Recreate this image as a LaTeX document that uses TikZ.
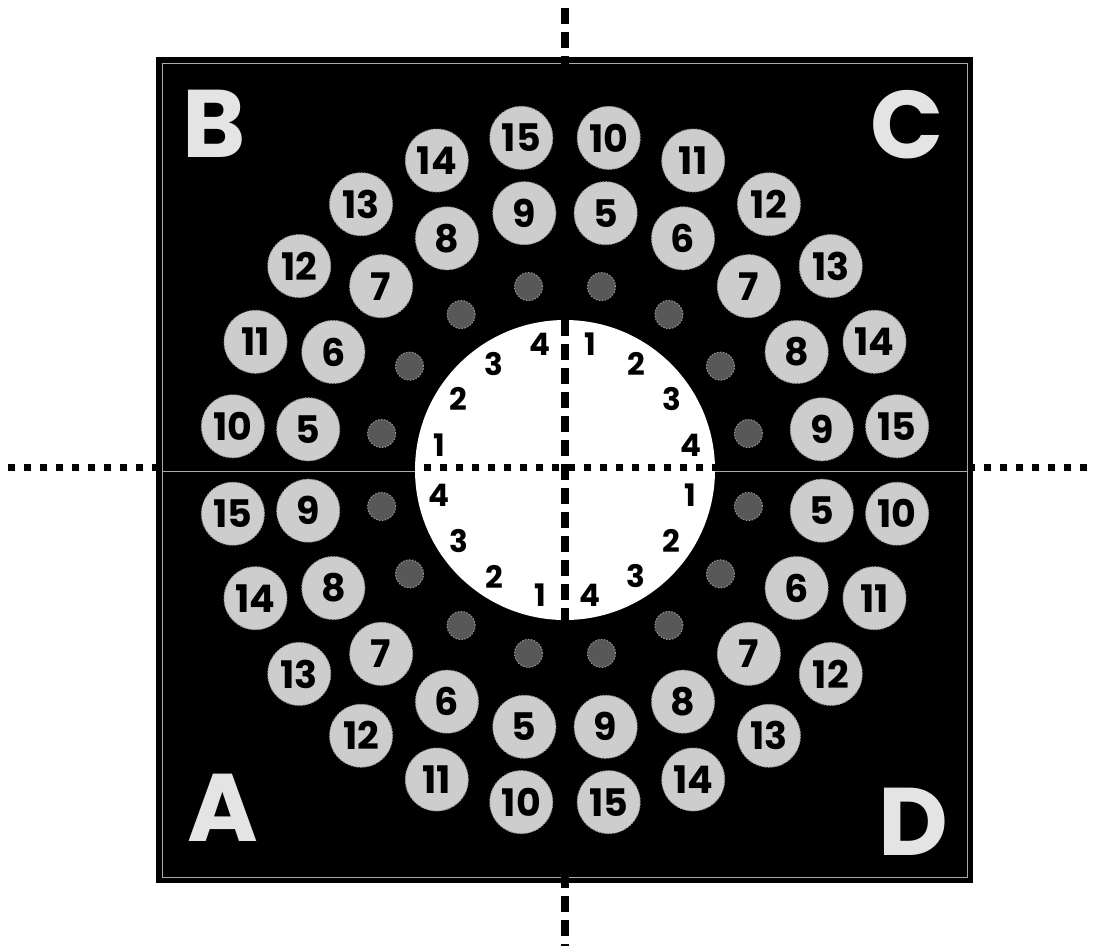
\documentclass[tikz,border=0pt]{standalone}
\usepackage{fontspec}
\setmainfont{Poppins}
\definecolor{diskgray}{RGB}{205,205,205}
\definecolor{diskrim}{RGB}{150,150,150}
\definecolor{darkfill}{RGB}{88,88,88}
\definecolor{lettergray}{RGB}{228,228,228}
\definecolor{seam}{RGB}{170,170,170}
\begin{document}
\begin{tikzpicture}[x=1pt,y=-1pt,
  graydisk/.style={circle,fill=diskgray,draw=diskrim,line width=1pt,
    dash pattern=on 1.5pt off 1.5pt,minimum size=63pt,inner sep=0pt,
    text=black,font=\bfseries\fontsize{38}{38}\selectfont},
  darkdisk/.style={circle,fill=darkfill,draw=diskrim,line width=1pt,
    dash pattern=on 1.5pt off 1.5pt,minimum size=28pt,inner sep=0pt},
  hubnum/.style={text=black,inner sep=0pt,font=\bfseries\fontsize{31}{31}\selectfont},
  corner/.style={text=lettergray,inner sep=0pt,font=\bfseries\fontsize{96}{96}\selectfont},
  axisdash/.style={black,line width=8pt,dash pattern=on 16pt off 8pt},
  axisdot/.style={black,line width=7pt,dash pattern=on 7pt off 9pt}]
\useasboundingbox (0,0) rectangle (1099,946);
% board
\fill[black] (156,57) rectangle (973,883);
\draw[seam,line width=1pt] (162,63) rectangle (967,877);
% hub
\node[circle,fill=white,minimum size=300pt,inner sep=0pt] (hub) at (565,470) {};
% axes
\coordinate (vtop) at (565,8);
\coordinate (vbot) at (565,946);
\coordinate (hleft) at (8,467);
\coordinate (hright) at (1093,467);
\draw[axisdash] (vtop) -- (vbot);
\draw[axisdot] (hleft) -- (hright);
\coordinate (sl1) at (162,471);
\coordinate (sl2) at (415,471);
\coordinate (sr1) at (715,471);
\coordinate (sr2) at (967,471);
\draw[seam,line width=1pt] (sl1) -- (sl2) (sr1) -- (sr2);
% quadrants
\foreach \q/\b in {C/0,B/90,A/180,D/270}{
  \foreach \n in {10,...,15}{
    \pgfmathsetmacro{\a}{\b+7.5+15*(15-\n)}
    \node[graydisk] (\q o\n) at ({565+335*cos(\a)},{470-335*sin(\a)}) {\n};
  }
  \foreach \n in {5,...,9}{
    \pgfmathsetmacro{\a}{\b+9+18*(9-\n)}
    \node[graydisk] (\q i\n) at ({565+260*cos(\a)},{470-260*sin(\a)}) {\n};
  }
  \foreach \k in {1,...,4}{
    \pgfmathsetmacro{\a}{\b+11.25+22.5*(4-\k)}
    \node[darkdisk] (\q d\k) at ({565+187*cos(\a)},{470-187*sin(\a)}) {};
    \node[hubnum] (\q w\k) at ({565+128*cos(\a)},{470-128*sin(\a)}) {\k};
  }
}
% corner letters
\node[corner] (B) at (214,124) {B};
\node[corner] (C) at (907,125) {C};
\node[corner] (A) at (223,808) {A};
\node[corner] (D) at (913,822) {D};
\end{tikzpicture}
\end{document}
